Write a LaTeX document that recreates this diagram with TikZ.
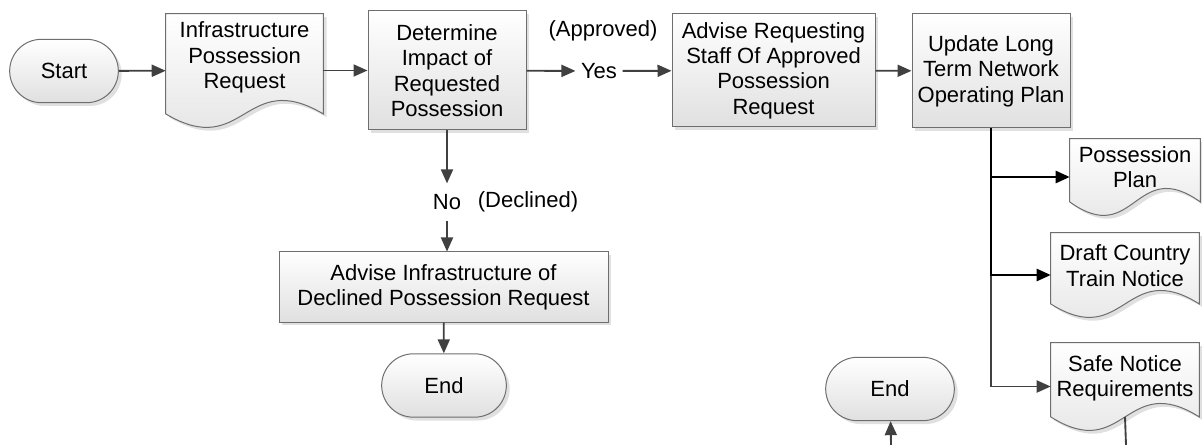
\documentclass[tikz,border=0pt]{standalone}
\usepackage{fontspec}
\setmainfont{Liberation Sans}
\usepackage{tikz}
\usetikzlibrary{arrows.meta,positioning,shapes.misc,shadows,backgrounds}
\definecolor{flowedge}{RGB}{110,110,110}
\definecolor{flowgray}{RGB}{224,224,224}
\definecolor{flowink}{RGB}{64,64,64}
\newcommand{\flowfont}{\fontsize{16.5}{19}\selectfont}
% wavy outline of a document node, drawn behind its text
\newcommand{\docoutline}[1]{%
  \begin{pgfonlayer}{background}
    \path[fill=black, opacity=0.12, transform canvas={xshift=2.5pt,yshift=-2.5pt}]
      (#1.north west) -- (#1.north east) -- ([yshift=10pt]#1.south east)
      .. controls ([yshift=45pt]#1.south) and ([yshift=-25pt]#1.south) .. ([yshift=10pt]#1.south west) -- cycle;
    \path[draw=flowedge, line width=0.75pt, top color=white, bottom color=flowgray]
      (#1.north west) -- (#1.north east) -- ([yshift=10pt]#1.south east)
      .. controls ([yshift=45pt]#1.south) and ([yshift=-25pt]#1.south) .. ([yshift=10pt]#1.south west) -- cycle;
  \end{pgfonlayer}}
\tikzset{
  flowbox/.style={
    rectangle,
    draw=flowedge,
    line width=0.75pt,
    top color=white,
    bottom color=flowgray,
    drop shadow={shadow xshift=2.5pt, shadow yshift=-2.5pt, fill=black, opacity=0.12},
    align=center,
    inner sep=2pt,
    font=\flowfont
  },
  flowterm/.style={
    flowbox,
    rounded rectangle,
    minimum height=47.5pt
  },
  flowdoc/.style={
    rectangle,
    align=center,
    inner sep=2pt,
    font=\flowfont
  },
  flowlabel/.style={
    inner xsep=4pt,
    inner ysep=8pt,
    font=\flowfont
  },
  flowarrow/.style={
    -{Triangle[length=10.5pt,width=9pt]},
    line width=1.4pt,
    draw=flowink
  },
  flowbranch/.style={
    flowarrow,
    draw=black,
    line width=1.8pt
  },
  flowplain/.style={
    line width=1.4pt,
    draw=flowink
  }
}
\begin{document}
\begin{tikzpicture}[x=0.75pt,y=-0.75pt]
\useasboundingbox (0,0) rectangle (1202,445);

% main row
\node[flowterm, minimum width=85.5pt] (start) at (64,71) {Start};
\node[flowdoc, minimum width=117.75pt, minimum height=84.75pt, text depth=23pt] (posreq) at (244.5,70.5) {Infrastructure\\Possession\\Request};
\node[flowbox, minimum width=118.5pt, minimum height=89.25pt] (impact) at (447,70.5) {Determine\\Impact of\\Requested\\Possession};
\node[flowlabel] (yes) at (599,71) {Yes};
\node[flowlabel] (approved) at (603,31) {(Approved)};
\node[flowbox, minimum width=152.25pt, minimum height=84.75pt] (adviseok) at (773.5,70.5) {Advise Requesting\\Staff Of Approved\\Possession\\Request};
\node[flowbox, minimum width=118.5pt, minimum height=85.5pt] (update) at (991,71) {Update Long\\Term Network\\Operating Plan};

% declined branch
\node[flowlabel] (no) at (447,202) {No};
\node[flowlabel] (declined) at (528,202) {(Declined)};
\node[flowbox, minimum width=246.75pt, minimum height=52.5pt] (advisenot) at (443.5,287) {Advise Infrastructure of\\Declined Possession Request};
\node[flowterm, minimum width=97.5pt] (endleft) at (444,385.5) {End};

% outputs of the plan
\node[flowdoc, minimum width=97.5pt, minimum height=57pt, text depth=15pt] (posplan) at (1135,177) {Possession\\Plan};
\node[flowdoc, minimum width=111pt, minimum height=63pt, text depth=14pt] (draftnotice) at (1125,275) {Draft Country\\Train Notice};
\node[flowdoc, minimum width=111pt, minimum height=65.25pt, text depth=16pt] (safenotice) at (1125,386.5) {Safe Notice\\Requirements};
\node[flowterm, minimum width=100.5pt] (endright) at (890,389) {End};
\coordinate (safeout) at (1126,445);
\coordinate (endin) at (891,445);

\docoutline{posreq}
\docoutline{posplan}
\docoutline{draftnotice}
\docoutline{safenotice}

\draw[flowarrow] (start) -- (posreq);
\draw[flowarrow] (posreq) -- (impact);
\draw[flowarrow] (impact) -- (yes);
\draw[flowarrow] (yes) -- (adviseok);
\draw[flowarrow] (adviseok) -- (update);
\draw[flowarrow] (impact) -- (no);
\draw[flowarrow] (no.south) -- (no.south |- advisenot.north);
\draw[flowarrow] (advisenot) -- (endleft);
\draw[flowarrow] (update.south) |- (safenotice.west);
\draw[flowbranch] (update.south) |- (posplan.west);
\draw[flowbranch] (update.south) |- (draftnotice.west);
\draw[flowplain] ([yshift=10pt]safenotice.south) -- (safeout);
\draw[flowarrow] (endin) -- (endright);
\end{tikzpicture}
\end{document}
